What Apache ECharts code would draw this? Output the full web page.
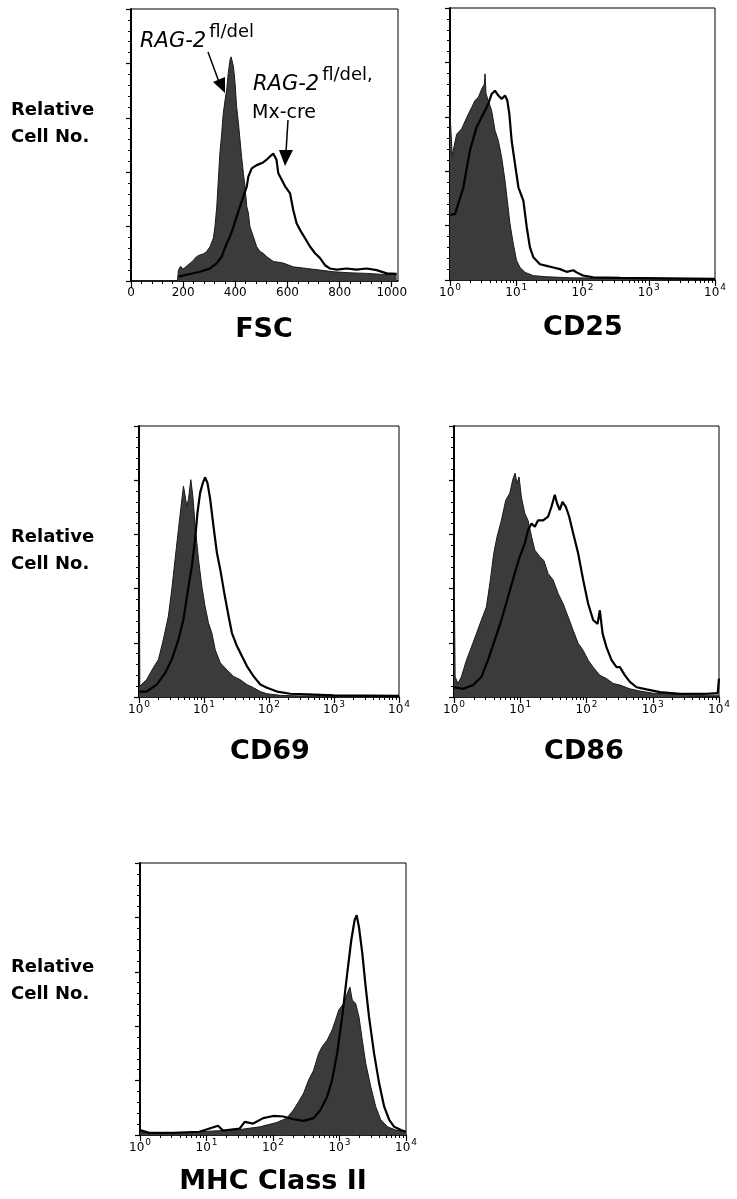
<!DOCTYPE html>
<html>
<head>
<meta charset="utf-8">
<script src="https://cdn.jsdelivr.net/npm/echarts@6/dist/echarts.min.js"></script>
<style>
html,body{margin:0;padding:0;background:#fff;}
#chart{width:737px;height:1199px;}
</style>
</head>
<body>
<div id="chart"></div>
<script>
// ---------- DATA (x = channel / fluorescence intensity, y = relative cell number) ----------
const fscTicks = [0, 200, 400, 600, 800, 1000];
const logTicks = [1, 10, 100, 1000, 10000];

const fscFilled = [[178,0],[182,0.2],[190,0.27],[200,0.22],[215,0.28],[235,0.36],[252,0.45],[265,0.48],[278,0.5],[290,0.54],[303,0.63],[316,0.79],[322,1.0],[329,1.37],[335,1.86],[341,2.35],[348,2.72],[354,3.09],[361,3.33],[367,3.52],[373,3.82],[380,4.07],[384,4.12],[386,4.08],[393,3.94],[399,3.64],[405,3.21],[412,2.9],[418,2.6],[424,2.29],[431,1.98],[437,1.74],[444,1.37],[450,1.25],[456,1.0],[469,0.82],[482,0.63],[495,0.54],[507,0.51],[520,0.45],[546,0.36],[584,0.33],[622,0.26],[674,0.23],[725,0.2],[776,0.17],[840,0.15],[904,0.14],[968,0.12],[1019,0.12]];
const fscOutline = [[183,0.08],[209,0.11],[265,0.17],[303,0.23],[329,0.33],[348,0.45],[367,0.69],[380,0.82],[393,1.0],[405,1.18],[418,1.37],[431,1.55],[444,1.74],[450,1.92],[463,2.07],[482,2.13],[507,2.18],[520,2.23],[533,2.29],[546,2.34],[552,2.35],[558,2.23],[565,1.98],[578,1.86],[591,1.74],[610,1.61],[622,1.31],[635,1.06],[648,0.94],[667,0.79],[687,0.63],[706,0.51],[725,0.42],[744,0.29],[763,0.23],[789,0.21],[827,0.23],[865,0.21],[904,0.23],[942,0.2],[981,0.14],[1019,0.13]];

const cd25Filled = [[1,3.08],[1.06,3.08],[1.08,2.29],[1.12,2.29],[1.26,2.68],[1.5,2.78],[1.89,3.05],[2.12,3.17],[2.38,3.3],[2.68,3.36],[3.01,3.51],[3.3,3.6],[3.38,3.79],[3.5,3.42],[3.79,3.3],[4.26,3.11],[4.78,2.75],[5.37,2.56],[6.03,2.25],[6.76,1.83],[7.33,1.46],[8.05,1.03],[9.04,0.66],[10.1,0.36],[11.4,0.23],[13.6,0.14],[18.1,0.08],[28.8,0.06],[64.8,0.04],[369,0.03],[10000,0.02]];
const cd25Outline = [[1,1.2],[1.19,1.21],[1.59,1.7],[2.0,2.38],[2.52,2.81],[3.18,3.05],[3.79,3.24],[4.26,3.42],[4.77,3.48],[5.37,3.39],[6.03,3.33],[6.77,3.39],[7.33,3.3],[7.87,3.05],[8.52,2.56],[9.58,2.13],[10.8,1.7],[12.8,1.46],[14.4,0.97],[16.1,0.6],[18.1,0.42],[22.8,0.29],[28.8,0.26],[36.3,0.23],[45.7,0.2],[57.6,0.15],[72.6,0.18],[81.5,0.14],[103,0.08],[145,0.05],[369,0.04],[10000,0.02]];

const cd69Filled = [[1,3.92],[1.02,3.92],[1.03,0.2],[1.31,0.32],[1.66,0.54],[1.99,0.69],[2.37,1.06],[2.83,1.49],[3.19,1.98],[3.59,2.54],[4.04,3.09],[4.44,3.52],[4.83,3.89],[5.13,3.71],[5.43,3.52],[5.77,3.65],[6.27,4.01],[6.73,3.71],[7.31,3.15],[8.23,2.54],[9.26,2.04],[10.4,1.67],[11.7,1.37],[13.2,1.18],[14.9,0.87],[17.8,0.63],[22.5,0.5],[28.5,0.38],[36.1,0.32],[45.7,0.23],[58,0.17],[73.5,0.1],[93,0.06],[150,0.03],[302,0.02],[10000,0.01]];
const cd69Outline = [[1,0.1],[1.31,0.1],[1.87,0.23],[2.52,0.44],[3.19,0.69],[4.04,1.06],[4.83,1.43],[5.57,1.92],[6.49,2.41],[7.31,2.91],[7.94,3.4],[8.73,3.77],[9.6,3.95],[10.4,4.05],[11.3,3.95],[12.45,3.65],[14.0,3.15],[15.8,2.66],[17.8,2.35],[20.5,1.92],[23.9,1.49],[26.9,1.18],[32.1,0.94],[38.4,0.75],[45.7,0.57],[58,0.38],[73.5,0.23],[93,0.17],[133,0.1],[213,0.06],[385,0.05],[994,0.03],[10000,0.02]];

const cd86Filled = [[1,2.59],[1.02,2.59],[1.04,0.37],[1.15,0.25],[1.29,0.37],[1.54,0.68],[1.83,0.92],[2.18,1.17],[2.59,1.42],[3.08,1.66],[3.54,2.16],[3.98,2.65],[4.47,2.96],[5.19,3.26],[6.04,3.63],[6.94,3.76],[7.79,4.03],[8.35,4.13],[8.96,3.94],[9.6,4.06],[10.4,3.69],[11.7,3.39],[13.1,3.26],[14.8,2.96],[16.6,2.71],[19.7,2.59],[22.7,2.52],[26.3,2.28],[31.3,2.16],[37.3,1.91],[44.4,1.72],[52.8,1.48],[62.9,1.23],[74.8,0.99],[89.1,0.86],[106,0.68],[126,0.55],[159,0.4],[200,0.34],[253,0.25],[319,0.22],[452,0.15],[640,0.11],[1018,0.07],[2575,0.05],[10000,0.03]];
const cd86Outline = [[1,0.18],[1.37,0.15],[1.94,0.22],[2.59,0.37],[3.26,0.68],[4.12,1.05],[5.19,1.42],[6.55,1.85],[8.26,2.28],[9.83,2.59],[11.7,2.83],[13.1,3.08],[14.8,3.2],[16.6,3.14],[18.6,3.26],[22.1,3.26],[26.3,3.33],[29.6,3.51],[33.2,3.73],[36.0,3.57],[39.5,3.45],[43.4,3.6],[48.7,3.51],[54.7,3.33],[62.9,3.02],[74.8,2.65],[89.1,2.16],[106,1.72],[126,1.42],[147,1.35],[159,1.6],[175,1.17],[200,0.92],[239,0.68],[284,0.55],[319,0.55],[380,0.4],[452,0.28],[570,0.18],[807,0.14],[1284,0.09],[2575,0.06],[6516,0.06],[9550,0.07],[10000,0.34]];

const mhcFilled = [[1,0.06],[1.54,0.03],[3.09,0.03],[7.83,0.06],[15.7,0.08],[31.6,0.1],[63.5,0.15],[114,0.23],[161,0.31],[203,0.46],[242,0.61],[289,0.77],[343,1.01],[408,1.19],[486,1.5],[546,1.62],[650,1.74],[774,1.93],[869,2.11],[977,2.3],[1164,2.42],[1306,2.6],[1435,2.72],[1556,2.48],[1747,2.42],[1963,2.17],[2204,1.74],[2477,1.32],[2950,0.89],[3508,0.52],[4178,0.28],[5272,0.15],[7047,0.09],[10000,0.06]];
const mhcOutline = [[1,0.09],[1.37,0.04],[3.09,0.04],[7.83,0.06],[14.9,0.17],[17.7,0.08],[31.6,0.12],[37.6,0.24],[50.3,0.21],[71.4,0.31],[101,0.35],[143,0.34],[203,0.29],[289,0.26],[408,0.31],[515,0.46],[650,0.7],[774,1.01],[922,1.5],[1097,2.17],[1306,2.97],[1503,3.58],[1687,3.95],[1810,4.04],[1963,3.82],[2204,3.34],[2477,2.72],[2780,2.17],[3311,1.5],[3945,0.95],[4697,0.52],[5585,0.28],[6653,0.15],[8395,0.09],[10000,0.06]];

// ---------- LAYOUT ----------
const FONT = '"DejaVu Sans", "Liberation Sans", sans-serif';
const panels = [
  {title:'FSC', kind:'lin', filled:fscFilled, outline:fscOutline, grid:{left:131, top:9, width:267, height:272}, tx:264, ty:330},
  {title:'CD25', kind:'log', filled:cd25Filled, outline:cd25Outline, grid:{left:450, top:8, width:265, height:272}, tx:583, ty:328},
  {title:'CD69', kind:'log', filled:cd69Filled, outline:cd69Outline, grid:{left:139, top:426, width:260, height:271}, tx:270, ty:752},
  {title:'CD86', kind:'log', filled:cd86Filled, outline:cd86Outline, grid:{left:454, top:426, width:265, height:271}, tx:584, ty:752},
  {title:'MHC Class II', kind:'log', filled:mhcFilled, outline:mhcOutline, grid:{left:140, top:863, width:266, height:272}, tx:273, ty:1182}
];

const fscMinor = [];
for (let v = 40; v <= 1020; v += 40) if (v % 200 !== 0) fscMinor.push(v);
const logMinor = [];
[1, 10, 100, 1000].forEach(function (d) { for (let k = 2; k <= 9; k++) logMinor.push(d * k); });

const grids = [], xAxes = [], yAxes = [], series = [], graphics = [];
const rich = {
  b: {fontSize: 12, fontFamily: FONT, color: '#000', verticalAlign: 'bottom', lineHeight: 14},
  s: {fontSize: 9, fontFamily: FONT, color: '#000', verticalAlign: 'bottom', lineHeight: 10, padding: [0, 0, 7, 1]}
};

panels.forEach(function (p, i) {
  grids.push(Object.assign({show: true, borderColor: '#000', borderWidth: 1, backgroundColor: 'transparent'}, p.grid));
  const isLog = p.kind === 'log';
  const base = {
    gridIndex: i, position: 'bottom', splitLine: {show: false}
  };
  if (isLog) {
    Object.assign(base, {type: 'log', logBase: 10, min: 1, max: 10000});
  } else {
    Object.assign(base, {type: 'value', min: 0, max: 1024});
  }
  xAxes.push(Object.assign({}, base, {
    axisLine: {show: true, onZero: false, lineStyle: {color: '#000', width: 1.5}},
    axisTick: {show: true, length: 6, customValues: isLog ? logTicks : fscTicks, lineStyle: {color: '#000', width: 1.2}},
    axisLabel: isLog ? {
      show: true, customValues: logTicks, margin: 5,
      formatter: function (v) { return '{b|10}{s|' + Math.round(Math.log10(v)) + '}'; },
      rich: rich
    } : {
      show: true, customValues: fscTicks, margin: 6, fontSize: 12, fontFamily: FONT, color: '#000',
      formatter: function (v) { return String(v); }
    }
  }));
  xAxes.push(Object.assign({}, base, {
    axisLine: {show: false},
    axisTick: {show: true, length: 3, customValues: isLog ? logMinor : fscMinor, lineStyle: {color: '#000', width: 1}},
    axisLabel: {show: false}
  }));
  yAxes.push({
    gridIndex: i, type: 'value', min: 0, max: 5, interval: 1,
    axisLine: {show: true, onZero: false, lineStyle: {color: '#000', width: 2}},
    axisTick: {show: true, length: 5, lineStyle: {color: '#000', width: 1.2}},
    minorTick: {show: true, splitNumber: 5, length: 3, lineStyle: {color: '#000', width: 1}},
    axisLabel: {show: false},
    splitLine: {show: false}
  });
  series.push({
    type: 'line', xAxisIndex: 2 * i, yAxisIndex: i, data: p.filled,
    showSymbol: false, symbol: 'none', smooth: false, z: 2,
    lineStyle: {color: '#1a1a1a', width: 1},
    areaStyle: {color: '#3b3b3b', opacity: 1}
  });
  series.push({
    type: 'line', xAxisIndex: 2 * i, yAxisIndex: i, data: p.outline,
    showSymbol: false, symbol: 'none', smooth: false, z: 3,
    lineStyle: {color: '#000', width: 2.2}
  });
  graphics.push({
    type: 'text', z: 10,
    style: {text: p.title, x: p.tx, y: p.ty, textAlign: 'center', textVerticalAlign: 'middle',
            font: 'bold 27px ' + FONT, fill: '#000'}
  });
});

// y-axis captions
[124, 551, 981].forEach(function (cy) {
  graphics.push({
    type: 'text', z: 10,
    style: {text: 'Relative\nCell No.', x: 11, y: cy, textAlign: 'left', textVerticalAlign: 'middle',
            font: 'bold 18px ' + FONT, lineHeight: 27, fill: '#000'}
  });
});

// annotations in FSC panel
const annRich = {
  i: {fontSize: 21, fontStyle: 'italic', fontFamily: FONT, color: '#000', verticalAlign: 'bottom', lineHeight: 24},
  s: {fontSize: 18, fontFamily: FONT, color: '#000', verticalAlign: 'bottom', lineHeight: 20, padding: [0, 0, 11, 3]}
};
graphics.push({type: 'text', z: 10, style: {text: '{i|RAG-2}{s|fl/del}', x: 140, y: 52, textAlign: 'left', textVerticalAlign: 'bottom', rich: annRich}});
graphics.push({type: 'text', z: 10, style: {text: '{i|RAG-2}{s|fl/del,}', x: 253, y: 95, textAlign: 'left', textVerticalAlign: 'bottom', rich: annRich}});
graphics.push({type: 'text', z: 10, style: {text: 'Mx-cre', x: 252, y: 113, textAlign: 'left', textVerticalAlign: 'middle', font: '19px ' + FONT, fill: '#000'}});
graphics.push({type: 'line', z: 10, shape: {x1: 208, y1: 52, x2: 219, y2: 82}, style: {stroke: '#000', lineWidth: 1.5}});
graphics.push({type: 'polygon', z: 10, shape: {points: [[225, 93], [213, 82], [225, 77]]}, style: {fill: '#000'}});
graphics.push({type: 'line', z: 10, shape: {x1: 288, y1: 120, x2: 286, y2: 152}, style: {stroke: '#000', lineWidth: 1.5}});
graphics.push({type: 'polygon', z: 10, shape: {points: [[285, 166], [279, 150], [293, 150]]}, style: {fill: '#000'}});

const chart = echarts.init(document.getElementById('chart'), null, {renderer: 'canvas'});
chart.setOption({
  animation: false,
  backgroundColor: '#fff',
  grid: grids,
  xAxis: xAxes,
  yAxis: yAxes,
  series: series,
  graphic: graphics
});
</script>
</body>
</html>
